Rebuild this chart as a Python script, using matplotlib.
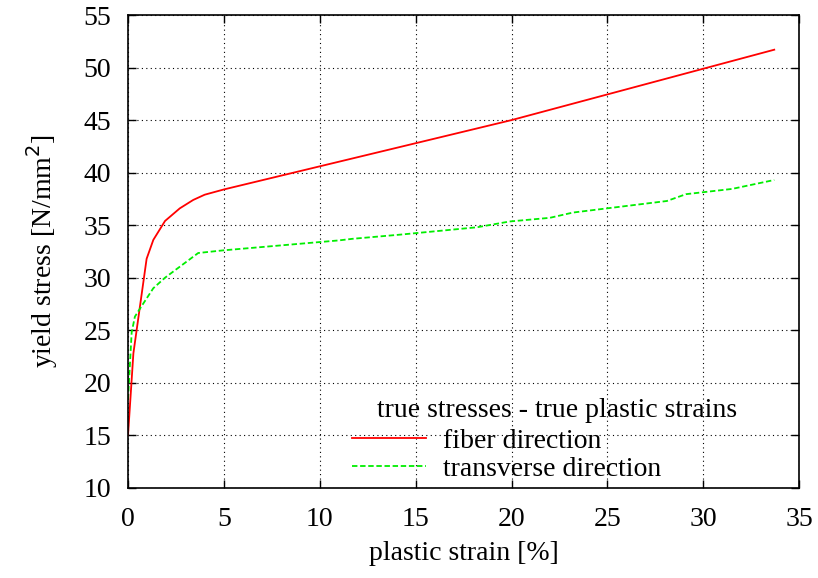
import matplotlib
matplotlib.use("Agg")
import matplotlib.pyplot as plt

plt.rcParams['font.family'] = ['Liberation Serif', 'DejaVu Serif']

# fiber direction (red)
fiber_strain = [0.0, 0.28, 0.97, 1.32, 1.93, 2.7, 3.4, 4.0, 5.0, 10.0, 20.0, 33.7]
fiber_stress = [15.0, 22.8, 31.8, 33.6, 35.4, 36.6, 37.4, 37.9, 38.4, 40.6, 45.0, 51.7]

# transverse direction (green)
trans_strain = [0.0, 0.19, 0.36, 0.71, 1.32, 1.93, 3.66, 4.95, 11.0, 11.7, 14.2,
                18.2, 19.9, 22.0, 23.2, 28.1, 29.1, 31.5, 33.7]
trans_stress = [18.4, 24.8, 26.3, 27.3, 29.0, 30.0, 32.35, 32.6, 33.55, 33.7, 34.1,
                34.8, 35.35, 35.7, 36.2, 37.3, 37.95, 38.45, 39.3]

xticks = [0, 5, 10, 15, 20, 25, 30, 35]
yticks = [10, 15, 20, 25, 30, 35, 40, 45, 50, 55]

fs = 20

fig = plt.figure(figsize=(8.18, 5.78), dpi=100)
ax = fig.add_axes([0.1565, 0.156, 0.8205, 0.818])

ax.plot(fiber_strain, fiber_stress, color='#ff0000', lw=1.3, label='fiber direction')
ax.plot(trans_strain, trans_stress, color='#00ee00', lw=1.3, ls=(0, (3, 1.5)),
        label='transverse direction')

ax.set_xlim(0, 35)
ax.set_ylim(10, 55)
ax.set_xticks(xticks)
ax.set_yticks(yticks)
ax.tick_params(direction='in', top=True, right=True, length=6, width=1,
               labelsize=fs, pad=12)
ax.tick_params(axis='x', pad=14)
ax.grid(True, color='black', ls=(0, (1, 3)), lw=0.8)
for s in ax.spines.values():
    s.set_linewidth(1.2)

ax.set_xlabel('plastic strain [%]', fontsize=fs, labelpad=6)
ax.set_ylabel('yield stress [N/mm$^2$]', fontsize=fs, labelpad=17)

# key, gnuplot style: title over two entries
ax.legend(loc='center left', bbox_to_anchor=(0.334, 0.069), frameon=False,
          fontsize=fs, handlelength=2.66, handletextpad=0.6, labelspacing=0.1,
          borderpad=0, borderaxespad=0)
ax.text(0.639, 0.163, 'true stresses - true plastic strains', transform=ax.transAxes,
        ha='center', va='center', fontsize=fs)

fig.savefig('out.png', dpi=100)
